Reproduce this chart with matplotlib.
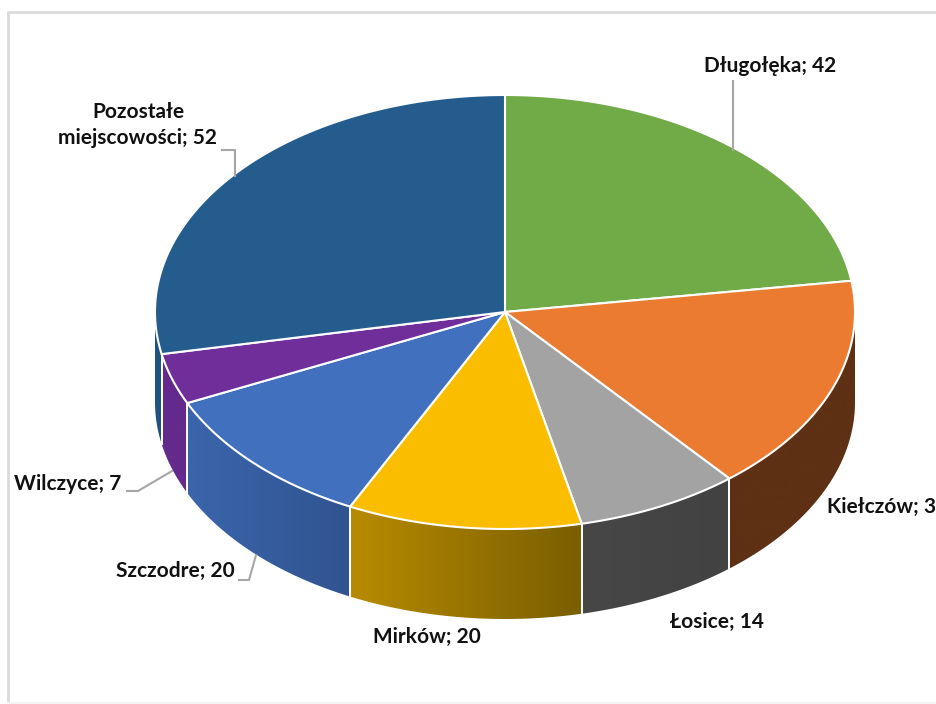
#!/usr/bin/env python3

import numpy as np
import matplotlib
matplotlib.use("Agg")
import matplotlib.pyplot as plt
from matplotlib.colors import to_rgb
from matplotlib.patches import Polygon

# Data, clockwise from 12 o'clock
names = ["Długołęka", "Kiełczów", "Łosice", "Mirków", "Szczodre", "Wilczyce",
         "Pozostałe\nmiejscowości"]
values = [42, 30, 14, 20, 20, 7, 52]

# Colours of the top face and the side (left end, right end of gradient)
top_colours = ["#70AB48", "#EB7B30", "#A3A3A3", "#FBBD00", "#4070BE", "#6F2E9A", "#255C8E"]
side_left = ["#43682B", "#5E3014", "#474747", "#B78B00", "#3B65AC", "#642A8C", "#1F5380"]
side_right = ["#43682B", "#5E3014", "#424242", "#7A5E00", "#30548F", "#642A8C", "#1F5380"]

# Label left edges / vertical centres and leader lines in picture pixels
label_xy = [(770, 66), (827, 507), (717, 622), (427, 637), (175, 571), (68, 484), (138, 125)]
label_ha = ["center", "left", "center", "center", "center", "center", "center"]
leaders = [[(733, 81), (733, 150)], None, None, None,
           [(239, 580), (249, 580), (256, 555)],
           [(127, 491), (138, 491), (172, 471)],
           [(222, 150), (235, 150), (235, 176)]]

cx, cy = 505, 312
rx, ry = 350, 217
depth = 90


def rim(t):
    # t in degrees clockwise from the top of the ellipse
    t = np.radians(t)
    return cx + rx * np.sin(t), cy - ry * np.cos(t)


fig = plt.figure(figsize=(9.37, 7.04), dpi=100)
ax = fig.add_axes([0, 0, 1, 1])
ax.set_xlim(0, 937)
ax.set_ylim(704, 0)
ax.axis("off")

# Chart frame
ax.plot([8.5, 8.5, 937], [704, 11.5, 11.5], color="#D9D9D9", lw=2, zorder=1)
ax.plot([8.5, 937], [703, 703], color="#F4F4F4", lw=1.5, zorder=1)

edges = np.cumsum([0] + values) / sum(values) * 360

# Side walls, only the front half of the ellipse shows them
for i in range(len(values)):
    t0 = max(edges[i], 90)
    t1 = min(edges[i + 1], 270)
    if t1 <= t0:
        continue
    ts = np.linspace(t0, t1, 120)
    x, y = rim(ts)
    pts = np.column_stack([np.r_[x, x[::-1]], np.r_[y, y[::-1] + depth]])
    poly = Polygon(pts, closed=True, fc="none", ec="none", zorder=2)
    ax.add_patch(poly)
    # gradient runs from screen left to screen right
    left, right = min(x), max(x)
    grad = np.linspace(to_rgb(side_left[i]), to_rgb(side_right[i]), 64)[None, :, :]
    im = ax.imshow(grad, extent=(left, right, 704, 0), aspect="auto",
                   interpolation="bilinear", zorder=2)
    im.set_clip_path(poly)
    # white seam between walls
    for t in (t0, t1):
        if 90 < t < 270:
            sx, sy = rim(t)
            ax.plot([sx, sx], [sy, sy + depth], color="white", lw=1.3, zorder=3)

ax.set_xlim(0, 937)
ax.set_ylim(704, 0)

# Top face
for i in range(len(values)):
    x, y = rim(np.linspace(edges[i], edges[i + 1], 200))
    pts = np.column_stack([np.r_[cx, x], np.r_[cy, y]])
    ax.add_patch(Polygon(pts, closed=True, fc=top_colours[i], ec="white", lw=1.5,
                         joinstyle="round", zorder=4))

# Leader lines
for line in leaders:
    if line is not None:
        lx, ly = zip(*line)
        ax.plot(lx, ly, color="#A6A6A6", lw=1.5, zorder=5)

# Labels
for name, value, (lx, ly), ha in zip(names, values, label_xy, label_ha):
    ax.text(lx, ly, f"{name}; {value}", ha=ha, va="center", fontsize=15,
            family=["Lato", "DejaVu Sans"], weight="bold",
            color="#111111", linespacing=1.4, zorder=6, clip_on=True)

fig.savefig("out.png", dpi=100)
